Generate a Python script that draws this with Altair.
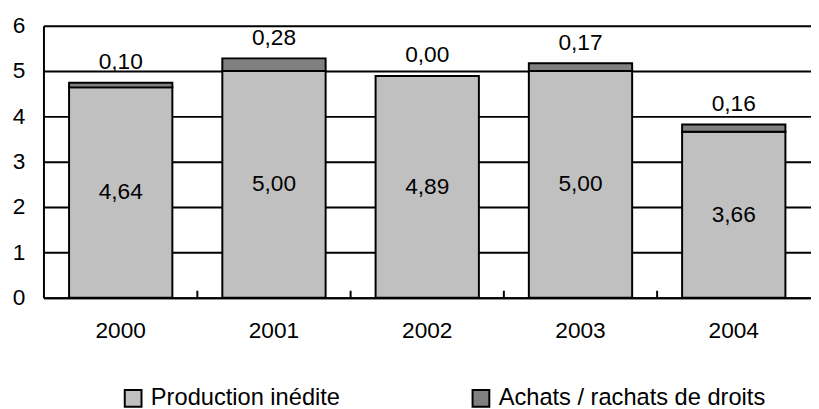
import altair as alt
import pandas as pd

years = ["2000", "2001", "2002", "2003", "2004"]
production = [4.64, 5.00, 4.89, 5.00, 3.66]
achats = [0.10, 0.28, 0.00, 0.17, 0.16]
series = ["Production inédite", "Achats / rachats de droits"]
colors = ["#C0C0C0", "#808080"]
y_ticks = [0, 1, 2, 3, 4, 5, 6]

FONT = "Liberation Sans, Arial, sans-serif"
FS = 23

def fr(v):
    return f"{v:.2f}".replace(".", ",")

rows = []
for yr, p, a in zip(years, production, achats):
    rows.append({"year": yr, "series": series[0], "value": p, "order": 0,
                 "mid": p / 2, "label": fr(p)})
    rows.append({"year": yr, "series": series[1], "value": a, "order": 1,
                 "mid": p + a, "label": fr(a)})
df = pd.DataFrame(rows)

W = 779
H = 276
xs = alt.Scale(domain=years, paddingInner=0.326, paddingOuter=0.167)
ys = alt.Scale(domain=[0, 6], nice=False)

x = alt.X("year:N", scale=xs, title=None,
          axis=alt.Axis(labelAngle=0, labelFont=FONT, labelFontSize=FS,
                        labelColor="black", labelPadding=22, ticks=False,
                        domainColor="black", domainWidth=2, grid=False))

bars = alt.Chart(df).mark_bar(stroke="black", strokeWidth=2).encode(
    x=x,
    y=alt.Y("value:Q", stack="zero", scale=ys, title=None,
            axis=alt.Axis(values=y_ticks, labelFont=FONT, labelFontSize=FS,
                          labelColor="black", labelPadding=19, ticks=False,
                          domainColor="black", domainWidth=2,
                          grid=True, gridColor="black", gridWidth=2)),
    color=alt.Color("series:N", scale=alt.Scale(domain=series, range=colors),
                    title=None,
                    legend=alt.Legend(orient="none", legendX=79, legendY=366,
                                      direction="horizontal", columns=2,
                                      columnPadding=129, symbolType="square",
                                      symbolSize=289, symbolStrokeColor="black",
                                      symbolStrokeWidth=2, labelFont=FONT,
                                      labelFontSize=24, labelColor="black",
                                      labelOffset=6, labelLimit=500,
                                      symbolOpacity=1)),
    order=alt.Order("order:Q"),
)

inner = alt.Chart(df[df["order"] == 0]).mark_text(
    font=FONT, fontSize=FS, color="black", baseline="middle").encode(
    x=alt.X("year:N", scale=xs), y=alt.Y("mid:Q", scale=ys), text="label:N")

top = alt.Chart(df[df["order"] == 1]).mark_text(
    font=FONT, fontSize=FS, color="black", baseline="middle", dy=-21).encode(
    x=alt.X("year:N", scale=xs), y=alt.Y("mid:Q", scale=ys), text="label:N")

tick_df = pd.DataFrame({"year": years[:-1]})
ticks = alt.Chart(tick_df).mark_rule(color="black", strokeWidth=2,
                                     xOffset=W / 5.008 / 2).encode(
    x=alt.X("year:N", scale=xs), y=alt.value(H), y2=alt.value(H - 7))

chart = alt.layer(bars, inner, top, ticks).properties(
    width=W, height=H,
    autosize=alt.AutoSizeParams(type="none"),
    padding={"left": 36, "top": 15, "right": 0, "bottom": 110},
).configure_view(stroke=None)

chart.save("out.html", embed_options={"renderer": "svg", "actions": False})
